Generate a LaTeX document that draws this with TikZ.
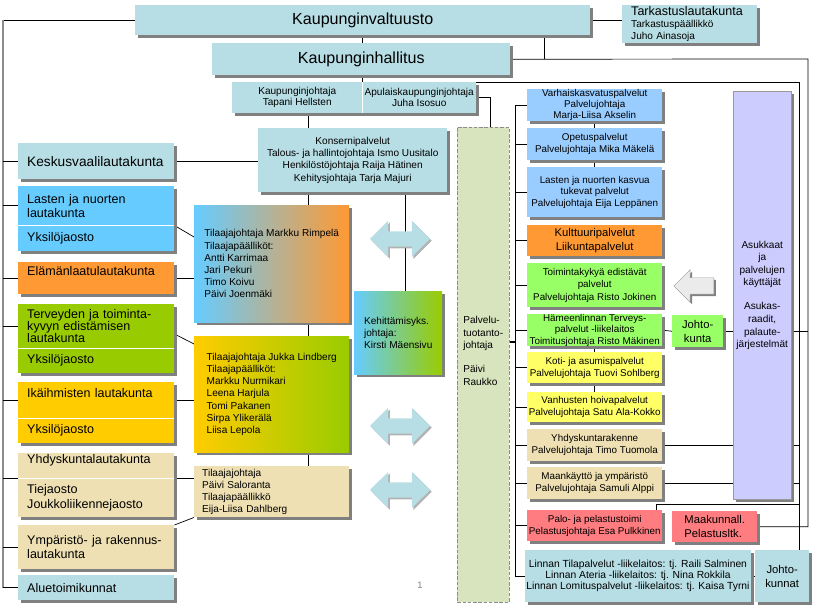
\documentclass[tikz,border=0pt]{standalone}
\usepackage{fontspec}
\setmainfont{Liberation Sans}
\usetikzlibrary{shapes.arrows, shadows, backgrounds}
\definecolor{cbox}{RGB}{183, 222, 229}
\definecolor{clblue}{RGB}{102, 204, 255}
\definecolor{corange}{RGB}{255, 153, 51}
\definecolor{cgreen}{RGB}{153, 204, 0}
\definecolor{cgold}{RGB}{255, 204, 0}
\definecolor{ctan}{RGB}{238, 224, 178}
\definecolor{csblue}{RGB}{153, 204, 255}
\definecolor{csgreen}{RGB}{153, 255, 102}
\definecolor{cyellow}{RGB}{255, 255, 102}
\definecolor{cpink}{RGB}{255, 124, 128}
\definecolor{clav}{RGB}{204, 204, 255}
\definecolor{cptj}{RGB}{215, 228, 189}
\definecolor{cshadow}{RGB}{128, 128, 128}
\tikzset{
  box/.style={anchor=north west, inner sep=1pt, align=center,
              font=\fontsize{8.6}{10.2}\selectfont,
              general shadow={fill=cshadow, shadow xshift=0.9mm, shadow yshift=-0.9mm}},
  wh/.style 2 args={minimum width=#1*0.3mm, minimum height=#2*0.3mm},
  big/.style={font=\fontsize{13.7}{16}\selectfont},
  brd/.style={box, align=left, inner xsep=1pt, inner ysep=0.5pt, text width=41.4mm,
              font=\fontsize{10.7}{12}\selectfont},
  svc/.style={box, wh={135}{#1}, inner ysep=0pt, inner xsep=0.5pt,
              font=\fontsize{8.4}{10}\selectfont},
  tla/.style={box, wh={155}{#1}, align=left, font=\fontsize{8.6}{10.4}\selectfont},
  lift/.style={text depth=#1},
  ln/.style={line width=0.6pt},
  bus/.style={line width=1.1pt, draw=black!45},
  dbl/.style={double arrow, fill=cbox, minimum height=18mm, minimum width=10.8mm,
              double arrow head extend=3.15mm, inner xsep=0pt, inner ysep=2.25mm,
              general shadow={fill=black!30, shadow xshift=0.5mm, shadow yshift=-0.5mm}},
}

\begin{document}
\begin{tikzpicture}[x=0.3mm, y=-0.3mm]
\useasboundingbox (0,0) rectangle (814,606);

% ---------- 顶部：valtuusto, hallitus ----------
\node[box, big, fill=cbox, wh={455}{30}] (valt) at (135,5) {Kaupunginvaltuusto};
\node[box, fill=cbox, wh={135}{38}, align=left, text width=35.1mm] (tark) at (622,5)
  {{\fontsize{10.7}{12}\selectfont Tarkastuslautakunta}\\Tarkastuspäällikkö\\Juho Ainasoja};
\node[box, big, fill=cbox, wh={298}{32}] (hall) at (212,43) {Kaupunginhallitus};
\node[box, fill=cbox, wh={130}{31}, font=\fontsize{8.6}{9.6}\selectfont] (kj) at (232,82)
  {Kaupunginjohtaja\\Tapani Hellsten};
\node[box, fill=cbox, wh={114}{31}, font=\fontsize{8.6}{9.6}\selectfont] (akj) at (362,82)
  {Apulaiskaupunginjohtaja\\Juha Isosuo};
\node[box, fill=cbox, wh={189}{64}, font=\fontsize{8.6}{10.5}\selectfont] (kons) at (258,128)
  {Konsernipalvelut\\Talous- ja hallintojohtaja Ismo Uusitalo\\
   Henkilöstöjohtaja Raija Hätinen\\Kehitysjohtaja Tarja Majuri};

% ---------- 左列：lautakunnat ----------
\node[brd, fill=cbox, wh={156}{36}, font=\fontsize{11.7}{13}\selectfont] (kvl) at (18,143) {Keskusvaalilautakunta};
\node[brd, fill=clblue, wh={156}{39}] (lnl) at (18,186) {Lasten ja nuorten\\lautakunta};
\node[brd, fill=clblue, wh={156}{26}] (lny) at (18,225) {Yksilöjaosto};
\node[brd, fill=corange, wh={156}{32}, lift=12.5pt] (ell) at (18,262) {Elämänlaatulautakunta};
\node[brd, fill=cgreen, wh={156}{44}, font=\fontsize{10.7}{10.3}\selectfont] (tel) at (18,304)
  {Terveyden ja toiminta-\\kyvyn edistämisen\\lautakunta};
\node[brd, fill=cgreen, wh={156}{25}] (tey) at (18,348) {Yksilöjaosto};
\node[brd, fill=cgold, wh={156}{36}, lift=12.5pt] (ikl) at (18,382) {Ikäihmisten lautakunta};
\node[brd, fill=cgold, wh={156}{25}] (iky) at (18,418) {Yksilöjaosto};
\node[brd, fill=ctan, wh={156}{25}, lift=11pt] (yhl) at (18,453) {Yhdyskuntalautakunta};
\node[brd, fill=ctan, wh={156}{39}] (yhj) at (18,478) {Tiejaosto\\Joukkoliikennejaosto};
\node[brd, fill=ctan, wh={156}{44}] (ymp) at (18,525) {Ympäristö- ja rakennus-\\lautakunta};
\node[brd, fill=cbox, wh={156}{25}] (alu) at (18,575) {Aluetoimikunnat};

% ---------- 中列：tilaajat ----------
\node[tla=117, left color=clblue, right color=corange] (t1) at (194,205)
  {Tilaajajohtaja Markku Rimpelä\\Tilaajapäälliköt:\\Antti Karrimaa\\Jari Pekuri\\Timo Koivu\\Päivi Joenmäki};
\node[tla=116, left color=cgold, right color=cgreen] (t2) at (194,336)
  {Tilaajajohtaja Jukka Lindberg\\Tilaajapäälliköt:\\Markku Nurmikari\\Leena Harjula\\Tomi Pakanen\\Sirpa Ylikerälä\\Liisa Lepola};
\node[tla=51, fill=ctan, text width=41.7mm] (t3) at (194,466)
  {Tilaajajohtaja\\Päivi Saloranta\\Tilaajapäällikkö\\Eija-Liisa Dahlberg};
\node[box, wh={88}{83}, align=left, left color=clblue, right color=cgreen] (keh) at (354,291)
  {Kehittämisyks.\\johtaja:\\Kirsti Mäensivu};

\node[dbl] (a1) at (400,239) {};
\node[dbl] (a2) at (400,426) {};
\node[dbl] (a3) at (400,490) {};

\node[anchor=north west, wh={52}{475}, fill=cptj, draw=black!45, dash pattern=on 3pt off 1.5pt,
      align=left, font=\fontsize{8.6}{10.6}\selectfont] (ptj) at (457,127)
  {Palvelu-\\tuotanto-\\johtaja\\[10pt]Päivi\\Raukko\\[13pt]\mbox{}};

% ---------- 右列：palvelut ----------
\node[svc=32, fill=csblue, font=\fontsize{8.4}{9.5}\selectfont] (s1) at (527,89)
  {Varhaiskasvatuspalvelut\\Palvelujohtaja\\Marja-Liisa Akselin};
\node[svc=32, fill=csblue] (s2) at (527,128) {Opetuspalvelut\\Palvelujohtaja Mika Mäkelä};
\node[svc=50, fill=csblue] (s3) at (527,167)
  {Lasten ja nuorten kasvua\\tukevat palvelut\\Palvelujohtaja Eija Leppänen};
\node[svc=31, fill=corange, font=\fontsize{9.6}{12}\selectfont] (s4) at (527,225)
  {Kulttuuripalvelut\\Liikuntapalvelut};
\node[svc=44, fill=csgreen, font=\fontsize{8.4}{10.6}\selectfont] (s5) at (527,263)
  {Toimintakykyä edistävät\\palvelut\\Palvelujohtaja Risto Jokinen};
\node[svc=32, fill=csgreen, font=\fontsize{8.4}{9.6}\selectfont] (s6) at (527,314)
  {Hämeenlinnan Terveys-\\palvelut -liikelaitos\\Toimitusjohtaja Risto Mäkinen};
\node[svc=31, fill=cyellow] (s7) at (527,352) {Koti- ja asumispalvelut\\Palvelujohtaja Tuovi Sohlberg};
\node[svc=30, fill=cyellow] (s8) at (527,392) {Vanhusten hoivapalvelut\\Palvelujohtaja Satu Ala-Kokko};
\node[svc=32, fill=ctan] (s9) at (527,429) {Yhdyskuntarakenne\\Palvelujohtaja Timo Tuomola};
\node[svc=32, fill=ctan] (s10) at (527,467) {Maankäyttö ja ympäristö\\Palvelujohtaja Samuli Alppi};
\node[svc=31, fill=cpink] (s11) at (527,510) {Palo- ja pelastustoimi\\Pelastusjohtaja Esa Pulkkinen};
\node[box, wh={225}{52}, fill=cbox, font=\fontsize{8.8}{9.4}\selectfont] (lin) at (525,550)
  {Linnan Tilapalvelut -liikelaitos: tj. Raili Salminen\\Linnan Ateria -liikelaitos: tj. Nina Rokkila\\
   Linnan Lomituspalvelut -liikelaitos: tj. Kaisa Tyrni};
\node[box, wh={54}{52}, fill=cbox, font=\fontsize{9.6}{12}\selectfont] (jkn) at (755,550) {Johto-\\kunnat};
\node[box, wh={85}{31}, fill=cpink, align=left, font=\fontsize{9.6}{12}\selectfont] (mak) at (672,511)
  {Maakunnall.\\Pelastusltk.};
\node[box, wh={51}{32}, fill=csgreen, font=\fontsize{9.6}{12}\selectfont] (jk) at (672,315) {Johto-\\kunta};
\node[box, wh={58}{408}, fill=clav, draw=black!40, font=\fontsize{8.6}{10.7}\selectfont] (asu) at (733,91)
  {Asukkaat\\ja\\palvelujen\\käyttäjät\\[10pt]Asukas-\\raadit,\\palaute-\\järjestelmät};
\node[single arrow, shape border rotate=180, fill=black!8, draw=black!40, minimum height=12mm,
      minimum width=9.6mm, single arrow head extend=2.4mm, inner xsep=0pt, inner ysep=2.4mm,
      general shadow={fill=cshadow, shadow xshift=0.6mm, shadow yshift=-0.6mm}] (garr) at (698,286) {};

\node[text=black!50, font=\fontsize{8}{9}\selectfont] (pnum) at (420,585) {1};

% white rules between parts of one box
\draw[white, line width=0.8pt] (akj.north west) -- (akj.south west);
\foreach \p in {lny, tey, iky, yhj}
  \draw[white, line width=0.8pt] (\p.north west) -- (\p.north east);

% ---------- 连线 ----------
\begin{scope}[on background layer]
  \coordinate (lb) at (3,23);
  \coordinate (cx) at (308,0);
  \coordinate (dx) at (405,0);
  \coordinate (vj) at (544,59);
  \coordinate (re) at (808,59);
  \coordinate (rin) at (799,82);
  \coordinate (pl) at (799,504);
  \coordinate (sb) at (515,105);

  \draw[ln] (valt.east) -- (valt.east -| tark.west);
  \draw[ln] (valt.south -| kj.north east) -- (hall.north -| kj.north east);
  \draw[ln] (hall.south -| kj.north east) -- (kj.north east);
  \draw[ln] (vj |- valt.south) -- (vj);
  \draw[ln] (hall.east) -- (re) |- (mak.east);
  \draw[ln] (akj.north east) -- (rin) -- (rin |- jkn.north);
  \draw[ln] (akj.east) -| ([xshift=2.1mm]ptj.north);
  \draw[ln] (kj.south -| cx) -- (kons.north -| cx);
  \draw[ln] (kons.south -| cx) -- (t1.north -| cx);
  \draw[ln] (t1.south -| cx) -- (t2.north -| cx);
  \draw[ln] (t2.south -| cx) -- (t3.north -| cx);
  \draw[ln] (kons.south -| dx) -- (keh.north -| dx);

  % left bus
  \draw[ln] (valt.west) -- (valt.west -| lb);
  \draw[bus] (valt.west -| lb) -- (lb |- alu.west);
  \foreach \b in {kvl, lnl, ell, tel, ikl, ymp, alu}
    \draw[ln] (lb |- \b.west) -- (\b.west);
  \draw[ln] (lb |- yhl.south west) -- (yhl.south west);

  \draw[ln] (kvl.east) -- (kvl.east -| kons.west);
  \draw[ln] (lnl.south east) -- ([yshift=-9.6mm]t1.north west);
  \draw[ln] (ell.east) -- (ell.east -| t1.west);
  \draw[ln] ([yshift=-9mm]tel.north east) -- ([yshift=-2.4mm]t2.north west);
  \draw[ln] (ikl.east) -- (ikl.east -| t2.west);
  \draw[ln] (yhl.south east) -- (yhl.south east -| t3.west);
  \draw[ln] (ymp.north east) -- (t3.south west);

  % service bus
  \draw[ln] (sb |- s1.west) -- (sb |- lin.west) -- (lin.west);
  \foreach \s in {1,...,11}
    \draw[ln] (sb |- s\s.west) -- (s\s.west);
  \draw[line width=1.4pt] ([yshift=6.75mm]ptj.east) -- ([yshift=6.75mm]ptj.east -| sb);
  \foreach \a/\b in {s1/s2, s2/s3, s6/s7, s7/s8}
    \draw[ln] (\a.south) -- (\b.north);

  % right side
  \draw[ln] (s6.east) -- (jk.west);
  \draw[ln] (jk.east) -- (jk.east -| asu.west);
  \draw[ln] (jk.east -| asu.east) -- (jk.east -| re);
  \draw[ln] (s9.east) -- (s9.east -| asu.west);
  \draw[ln] (s9.east -| asu.east) -- (s9.east -| rin);
  \draw[ln] (s10.east) -- (s10.east -| asu.west);
  \draw[ln] (s10.east -| asu.east) -- (s10.east -| rin);
  \draw[ln] ([xshift=-1.8mm]s11.north east) |- (pl);
  \draw[ln] (lin.east) -- (jkn.west);
\end{scope}

\end{tikzpicture}
\end{document}
